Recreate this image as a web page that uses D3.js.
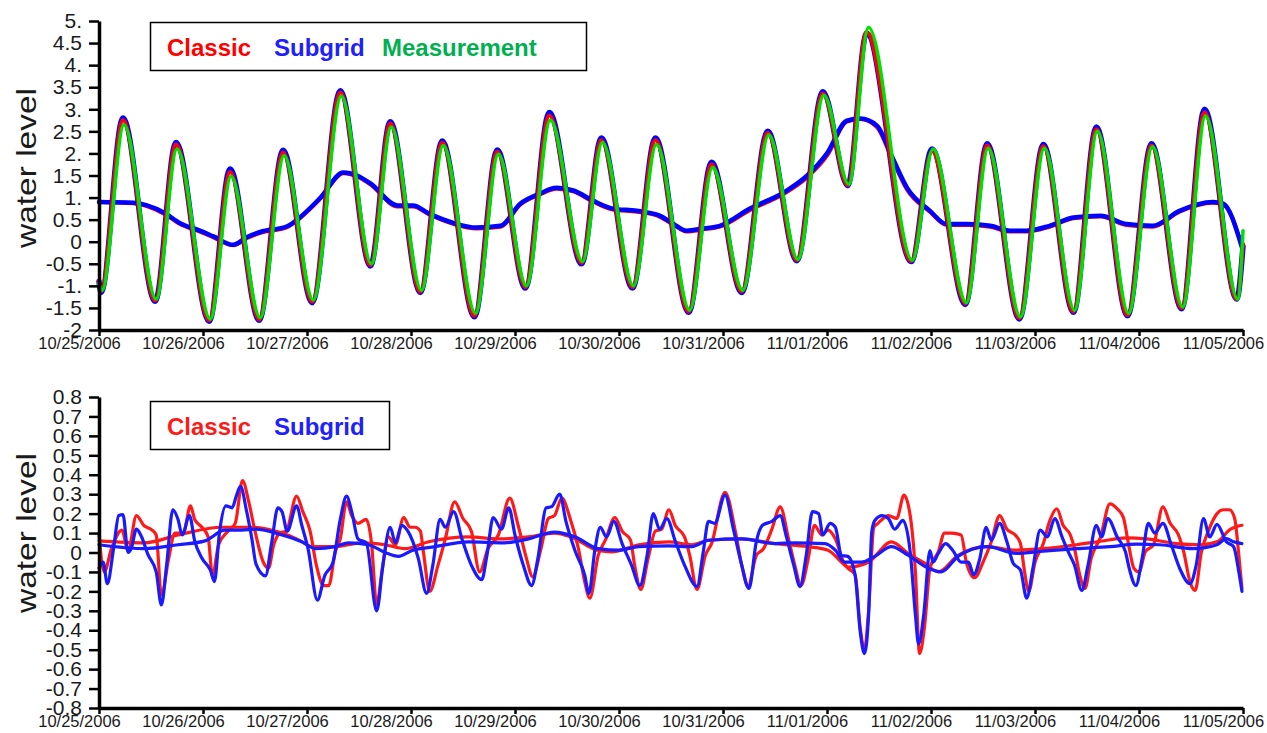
<!DOCTYPE html>
<html>
<head>
<meta charset="utf-8">
<script src="https://d3js.org/d3.v7.min.js"></script>
<style>
  body { margin: 0; background: #fff; }
  .axis text { font-family: "Liberation Sans", Arial, sans-serif; fill: #1a1a1a; }
  .axis path, .axis line { stroke: #000; }
  .legend text { font: bold 24px "Liberation Sans", Arial, sans-serif; }
  .ylab { font-family: "Liberation Sans", Arial, sans-serif; fill: #1a1a1a; }
</style>
</head>
<body>
<script>
// x labels, one per day
var dateLabels = ["10/25/2006", "10/26/2006", "10/27/2006", "10/28/2006", "10/29/2006", "10/30/2006",
                  "10/31/2006", "11/01/2006", "11/02/2006", "11/03/2006", "11/04/2006", "11/05/2006"];

var topTicks = [5, 4.5, 4, 3.5, 3, 2.5, 2, 1.5, 1, 0.5, 0, -0.5, -1, -1.5, -2];
var topTickLabels = ["5.", "4.5", "4.", "3.5", "3.", "2.5", "2.", "1.5", "1.", "0.5", "0", "-0.5", "-1.", "-1.5", "-2"];
var bottomTicks = d3.range(8, -9, -1).map(d => d / 10);
var bottomTickLabels = ["0.8", "0.7", "0.6", "0.5", "0.4", "0.3", "0.2", "0.1", "0", "-0.1", "-0.2",
                        "-0.3", "-0.4", "-0.5", "-0.6", "-0.7", "-0.8"];

// top panel: [day, water level] (tide turning points)
var subgridTide = [[0, -0.9], [0.02, -1.15], [0.23, 2.8], [0.54, -1.35], [0.74, 2.25], [1.06, -1.8], [1.26, 1.65],
  [1.54, -1.78], [1.77, 2.07], [2.05, -1.38], [2.32, 3.42], [2.61, -0.55], [2.80, 2.72], [3.09, -1.15], [3.30, 2.28],
  [3.61, -1.7], [3.83, 2.08], [4.10, -1.05], [4.33, 2.93], [4.64, -0.5], [4.83, 2.35], [5.13, -1.05], [5.35, 2.35],
  [5.67, -1.6], [5.89, 1.8], [6.18, -1.15], [6.43, 2.5], [6.71, -0.43], [6.96, 3.4], [7.20, 1.27], [7.38, 4.72],
  [7.81, -0.45], [8.01, 2.1], [8.33, -1.42], [8.54, 2.22], [8.85, -1.75], [9.08, 2.2], [9.37, -1.6], [9.59, 2.6],
  [9.89, -1.68], [10.12, 2.22], [10.41, -1.52], [10.63, 3.0], [10.94, -1.3], [11.0, -0.1]];
var classicTide = [[0, -0.9], [0.02, -1.12], [0.23, 2.75], [0.54, -1.33], [0.74, 2.2], [1.06, -1.78], [1.26, 1.58],
  [1.54, -1.76], [1.77, 2.02], [2.05, -1.36], [2.32, 3.38], [2.61, -0.53], [2.80, 2.68], [3.09, -1.13], [3.30, 2.24],
  [3.61, -1.68], [3.83, 2.04], [4.10, -1.03], [4.33, 2.86], [4.64, -0.48], [4.83, 2.3], [5.13, -1.03], [5.35, 2.3],
  [5.67, -1.58], [5.89, 1.75], [6.18, -1.13], [6.43, 2.46], [6.71, -0.42], [6.96, 3.36], [7.20, 1.28], [7.38, 4.75],
  [7.81, -0.44], [8.01, 2.05], [8.33, -1.4], [8.54, 2.18], [8.85, -1.73], [9.08, 2.16], [9.37, -1.58], [9.59, 2.55],
  [9.89, -1.66], [10.12, 2.18], [10.41, -1.5], [10.63, 2.93], [10.94, -1.3], [11.0, -0.05]];
var measuredTide = [[0, -0.95], [0.03, -1.1], [0.24, 2.65], [0.55, -1.3], [0.75, 2.1], [1.07, -1.75], [1.27, 1.48],
  [1.55, -1.72], [1.78, 1.95], [2.06, -1.32], [2.33, 3.3], [2.62, -0.5], [2.81, 2.6], [3.10, -1.1], [3.31, 2.18],
  [3.62, -1.62], [3.84, 1.98], [4.11, -1.0], [4.34, 2.75], [4.65, -0.45], [4.84, 2.25], [5.14, -1.0], [5.36, 2.2],
  [5.68, -1.55], [5.90, 1.68], [6.19, -1.1], [6.44, 2.42], [6.72, -0.4], [6.97, 3.32], [7.21, 1.3], [7.40, 4.85],
  [7.82, -0.42], [8.02, 2.1], [8.34, -1.38], [8.55, 2.12], [8.86, -1.7], [9.09, 2.12], [9.38, -1.55], [9.60, 2.5],
  [9.90, -1.62], [10.13, 2.15], [10.42, -1.48], [10.64, 2.85], [10.95, -1.3], [11.0, 0.25]];
// low-pass (subtidal) water level, both models almost identical
var subgridMean = [[0, 0.9], [0.33, 0.88], [0.63, 0.65], [0.78, 0.42], [0.97, 0.25], [1.10, 0.12], [1.29, -0.07],
  [1.42, 0.1], [1.55, 0.22], [1.81, 0.35], [1.93, 0.55], [2.13, 1.0], [2.35, 1.57], [2.48, 1.5], [2.61, 1.32],
  [2.87, 0.82], [3.02, 0.82], [3.18, 0.63], [3.40, 0.43], [3.63, 0.32], [3.86, 0.36], [4.05, 0.86], [4.24, 1.09],
  [4.40, 1.22], [4.56, 1.16], [4.75, 0.93], [4.94, 0.75], [5.17, 0.7], [5.39, 0.59], [5.52, 0.41], [5.65, 0.25],
  [5.81, 0.3], [5.97, 0.36], [6.26, 0.75], [6.58, 1.11], [6.81, 1.5], [7.00, 2.0], [7.19, 2.74], [7.32, 2.79],
  [7.48, 2.63], [7.63, 1.9], [7.77, 1.22], [7.99, 0.7], [8.15, 0.4], [8.35, 0.4], [8.57, 0.36], [8.76, 0.25],
  [8.92, 0.25], [9.14, 0.36], [9.37, 0.55], [9.63, 0.59], [9.88, 0.4], [10.13, 0.36], [10.39, 0.7], [10.71, 0.9],
  [10.81, 0.86], [10.99, -0.13]];
var classicMean = [[0, 0.9], [0.33, 0.87], [0.63, 0.63], [0.78, 0.4], [0.97, 0.23], [1.10, 0.1], [1.29, -0.08],
  [1.42, 0.08], [1.55, 0.2], [1.81, 0.33], [1.93, 0.53], [2.13, 0.98], [2.35, 1.55], [2.48, 1.48], [2.61, 1.3],
  [2.87, 0.8], [3.02, 0.8], [3.18, 0.61], [3.40, 0.41], [3.63, 0.3], [3.86, 0.34], [4.05, 0.84], [4.24, 1.07],
  [4.40, 1.2], [4.56, 1.14], [4.75, 0.91], [4.94, 0.73], [5.17, 0.68], [5.39, 0.57], [5.52, 0.39], [5.65, 0.23],
  [5.81, 0.28], [5.97, 0.34], [6.26, 0.72], [6.58, 1.08], [6.81, 1.46], [7.00, 1.95], [7.19, 2.72], [7.32, 2.78],
  [7.48, 2.6], [7.63, 1.85], [7.77, 1.18], [7.99, 0.68], [8.15, 0.38], [8.35, 0.38], [8.57, 0.34], [8.76, 0.23],
  [8.92, 0.23], [9.14, 0.34], [9.37, 0.53], [9.63, 0.57], [9.88, 0.38], [10.13, 0.34], [10.39, 0.68], [10.71, 0.88],
  [10.81, 0.84], [10.99, -0.1]];

// bottom panel: model minus measurement
var classicError = [[0, 0.09], [0.05, -0.10], [0.12, 0.02], [0.22, 0.115], [0.28, 0.01], [0.36, 0.19], [0.43, 0.14],
  [0.51, 0.115], [0.55, 0.09], [0.60, -0.22], [0.67, -0.03], [0.73, 0.10], [0.81, 0.10], [0.88, 0.24], [0.92, 0.17],
  [0.99, 0.13], [1.05, 0.08], [1.09, -0.12], [1.15, 0.04], [1.24, 0.11], [1.31, 0.15], [1.38, 0.37], [1.44, 0.26],
  [1.50, 0.11], [1.58, -0.05], [1.63, -0.08], [1.68, 0.04], [1.74, 0.10], [1.80, 0.11], [1.90, 0.29], [1.96, 0.21],
  [2.03, 0.11], [2.09, -0.065], [2.16, -0.17], [2.21, -0.17], [2.27, 0.0], [2.32, 0.07], [2.38, 0.26], [2.43, 0.19],
  [2.49, 0.15], [2.57, 0.17], [2.62, 0.05], [2.67, -0.27], [2.72, -0.10], [2.78, 0.08], [2.85, 0.04], [2.93, 0.18],
  [2.99, 0.13], [3.04, 0.13], [3.09, 0.11], [3.12, 0.0], [3.18, -0.2], [3.26, -0.065], [3.33, 0.07], [3.42, 0.26],
  [3.50, 0.175], [3.58, 0.11], [3.66, -0.10], [3.74, 0.02], [3.84, 0.09], [3.95, 0.28], [4.03, 0.14], [4.11, -0.03],
  [4.17, -0.125], [4.25, 0.02], [4.32, 0.175], [4.38, 0.19], [4.45, 0.28], [4.53, 0.175], [4.61, 0.02], [4.67, -0.15],
  [4.72, -0.235], [4.80, -0.015], [4.87, 0.065], [4.96, 0.18], [5.03, 0.11], [5.11, 0.065], [5.15, -0.065],
  [5.21, -0.19], [5.28, -0.03], [5.35, 0.11], [5.41, 0.12], [5.48, 0.22], [5.54, 0.14], [5.63, 0.08], [5.68, -0.015],
  [5.75, -0.19], [5.83, -0.015], [5.89, 0.046], [6.02, 0.31], [6.12, 0.105], [6.18, -0.065], [6.24, -0.175],
  [6.32, -0.015], [6.39, 0.02], [6.47, 0.12], [6.55, 0.235], [6.63, 0.07], [6.69, -0.065], [6.75, -0.17],
  [6.82, -0.03], [6.88, 0.14], [6.95, 0.09], [7.01, 0.115], [7.08, 0.07], [7.16, -0.05], [7.20, -0.08],
  [7.27, -0.115], [7.32, -0.39], [7.36, -0.50], [7.40, -0.30], [7.45, 0.13], [7.49, 0.15], [7.59, 0.19],
  [7.67, 0.175], [7.74, 0.295], [7.80, 0.19], [7.85, -0.10], [7.89, -0.52], [7.94, -0.37], [7.99, -0.08],
  [8.07, 0.003], [8.13, 0.10], [8.20, 0.10], [8.29, 0.09], [8.34, -0.05], [8.42, -0.13], [8.50, -0.05], [8.58, 0.055],
  [8.66, 0.19], [8.73, 0.12], [8.81, 0.09], [8.86, 0.046], [8.90, -0.10], [8.94, -0.2], [9.00, -0.05], [9.08, 0.046],
  [9.14, 0.16], [9.21, 0.225], [9.27, 0.14], [9.34, 0.09], [9.38, 0.02], [9.43, -0.115], [9.48, -0.185],
  [9.54, -0.03], [9.63, 0.08], [9.72, 0.25], [9.79, 0.225], [9.85, 0.18], [9.90, 0.04], [9.95, -0.08], [10.00, -0.10],
  [10.06, 0.003], [10.14, 0.04], [10.23, 0.235], [10.30, 0.15], [10.38, 0.09], [10.43, 0.003], [10.49, -0.15],
  [10.54, -0.195], [10.60, 0.003], [10.67, 0.115], [10.75, 0.20], [10.81, 0.22], [10.87, 0.22], [10.92, 0.175],
  [10.96, -0.015], [10.99, -0.185]];
var subgridError = [[0, -0.08], [0.04, -0.05], [0.08, -0.16], [0.14, 0.02], [0.19, 0.19], [0.23, 0.195], [0.28, 0.0],
  [0.31, 0.02], [0.36, 0.12], [0.41, 0.08], [0.47, -0.01], [0.55, -0.10], [0.60, -0.27], [0.65, -0.065], [0.71, 0.22],
  [0.76, 0.17], [0.80, 0.09], [0.87, 0.19], [0.92, 0.06], [0.99, -0.03], [1.07, -0.09], [1.11, -0.15], [1.16, 0.11],
  [1.22, 0.24], [1.28, 0.23], [1.32, 0.29], [1.36, 0.34], [1.42, 0.21], [1.47, 0.07], [1.51, -0.06], [1.60, -0.12],
  [1.66, 0.05], [1.72, 0.23], [1.76, 0.21], [1.81, 0.11], [1.90, 0.24], [1.95, 0.14], [2.01, 0.02], [2.10, -0.245],
  [2.17, -0.12], [2.25, -0.05], [2.32, 0.17], [2.38, 0.29], [2.43, 0.21], [2.49, 0.07], [2.57, 0.05], [2.67, -0.30],
  [2.73, -0.065], [2.80, 0.13], [2.85, 0.05], [2.91, 0.14], [2.97, 0.11], [3.07, -0.03], [3.15, -0.21], [3.21, -0.065],
  [3.28, 0.17], [3.33, 0.13], [3.41, 0.21], [3.49, 0.07], [3.58, -0.065], [3.68, -0.14], [3.73, -0.015], [3.79, 0.18],
  [3.87, 0.12], [3.94, 0.23], [4.00, 0.09], [4.08, -0.065], [4.16, -0.17], [4.22, -0.03], [4.30, 0.23], [4.35, 0.235],
  [4.43, 0.30], [4.49, 0.16], [4.58, 0.005], [4.67, -0.115], [4.71, -0.21], [4.77, 0.02], [4.82, 0.13], [4.88, 0.08],
  [4.95, 0.16], [5.03, 0.046], [5.12, -0.065], [5.20, -0.17], [5.27, -0.015], [5.33, 0.20], [5.39, 0.12],
  [5.46, 0.175], [5.54, 0.06], [5.63, -0.065], [5.75, -0.175], [5.81, 0.003], [5.86, 0.16], [5.92, 0.15],
  [6.02, 0.295], [6.10, 0.12], [6.18, -0.065], [6.25, -0.185], [6.32, 0.055], [6.38, 0.14], [6.47, 0.16],
  [6.55, 0.19], [6.61, 0.08], [6.68, -0.065], [6.74, -0.175], [6.80, -0.015], [6.86, 0.21], [6.92, 0.20],
  [6.96, 0.09], [7.03, 0.15], [7.08, 0.13], [7.14, -0.015], [7.20, -0.02], [7.27, -0.115], [7.32, -0.41],
  [7.36, -0.52], [7.40, -0.32], [7.43, 0.105], [7.46, 0.165], [7.53, 0.19], [7.59, 0.175], [7.65, 0.12],
  [7.73, 0.165], [7.80, 0.003], [7.85, -0.32], [7.88, -0.47], [7.93, -0.32], [7.99, 0.01], [8.02, -0.05],
  [8.07, -0.005], [8.14, 0.046], [8.21, 0.01], [8.29, -0.05], [8.36, -0.05], [8.41, -0.115], [8.47, -0.03],
  [8.53, 0.13], [8.58, 0.063], [8.66, 0.15], [8.73, 0.055], [8.79, -0.055], [8.86, -0.09], [8.92, -0.235],
  [8.98, -0.08], [9.05, 0.115], [9.12, 0.08], [9.19, 0.175], [9.26, 0.08], [9.32, 0.003], [9.38, -0.065],
  [9.45, -0.195], [9.51, -0.065], [9.59, 0.14], [9.64, 0.08], [9.70, 0.175], [9.79, 0.08], [9.87, 0.003],
  [9.91, -0.09], [9.97, -0.17], [10.03, -0.03], [10.09, 0.15], [10.15, 0.10], [10.23, 0.15], [10.31, 0.04],
  [10.39, -0.08], [10.49, -0.16], [10.55, -0.065], [10.62, 0.175], [10.68, 0.08], [10.75, 0.145], [10.84, 0.055],
  [10.91, 0.03], [10.96, -0.10], [10.99, -0.20]];
var classicErrorMean = [[0, 0.06], [0.44, 0.05], [0.76, 0.09], [1.18, 0.13], [1.47, 0.13], [1.76, 0.10], [1.92, 0.065],
  [2.05, 0.03], [2.27, 0.03], [2.53, 0.05], [2.75, 0.04], [2.94, 0.02], [3.17, 0.055], [3.55, 0.08], [3.84, 0.07],
  [4.13, 0.08], [4.38, 0.10], [4.54, 0.08], [4.80, 0.01], [4.93, 0.003], [5.19, 0.04], [5.48, 0.055], [5.70, 0.04],
  [5.86, 0.063], [6.18, 0.07], [6.50, 0.046], [6.82, 0.03], [7.01, 0.012], [7.14, -0.05], [7.20, -0.075],
  [7.40, -0.05], [7.62, 0.055], [7.78, -0.005], [7.94, -0.055], [8.07, -0.10], [8.26, -0.015], [8.54, 0.03],
  [8.79, 0.012], [9.08, 0.02], [9.40, 0.04], [9.63, 0.058], [9.88, 0.075], [10.07, 0.07], [10.36, 0.046],
  [10.59, 0.04], [10.75, 0.055], [10.88, 0.12], [10.99, 0.14]];
var subgridErrorMean = [[0, 0.04], [0.44, 0.02], [0.76, 0.04], [1.02, 0.06], [1.21, 0.115], [1.37, 0.115],
  [1.50, 0.12], [1.76, 0.09], [1.95, 0.055], [2.08, 0.02], [2.27, 0.03], [2.40, 0.05], [2.59, 0.04], [2.75, 0.0],
  [2.88, -0.02], [3.01, 0.01], [3.23, 0.03], [3.55, 0.055], [3.90, 0.05], [4.13, 0.07], [4.38, 0.105], [4.58, 0.08],
  [4.80, 0.02], [5.00, 0.012], [5.19, 0.03], [5.48, 0.034], [5.70, 0.03], [5.86, 0.063], [6.18, 0.07], [6.50, 0.046],
  [6.69, 0.05], [6.98, 0.046], [7.08, 0.012], [7.17, -0.05], [7.33, -0.05], [7.46, -0.02], [7.62, 0.03],
  [7.78, -0.014], [7.97, -0.08], [8.10, -0.10], [8.26, -0.02], [8.54, 0.03], [8.82, -0.005], [9.08, 0.007],
  [9.40, 0.02], [9.72, 0.03], [9.98, 0.043], [10.20, 0.04], [10.52, 0.02], [10.75, 0.04], [10.84, 0.072],
  [10.91, 0.055], [10.99, 0.046]];

var W = 1267, H = 733;
var svg = d3.select("body").append("svg").attr("width", W).attr("height", H);

var x = d3.scaleLinear().domain([0, 11]).range([99, 1243]);

function panel(opts) {
  var y = d3.scaleLinear().domain(opts.domain).range(opts.range);
  var g = svg.append("g");
  var line = d3.line().x(d => x(d[0])).y(d => y(d[1])).curve(d3.curveMonotoneX);

  opts.series.forEach(function(s) {
    g.append("path")
      .attr("d", line(s.data))
      .attr("fill", "none")
      .attr("stroke", s.color)
      .attr("stroke-width", s.width)
      .attr("stroke-linejoin", "round")
      .attr("stroke-linecap", "round");
  });

  var ya = g.append("g").attr("class", "axis")
    .attr("transform", "translate(" + x.range()[0] + ",0)")
    .call(d3.axisLeft(y).tickValues(opts.ticks).tickFormat((d, i) => opts.tickLabels[i])
      .tickSize(10).tickSizeOuter(0).tickPadding(7));
  ya.selectAll("text").style("font-size", "21px");
  ya.selectAll("line").attr("stroke-width", 2.5);
  ya.select(".domain").attr("stroke-width", 3.5);

  // the date labels sit a little left of their ticks in the original
  var xa = g.append("g").attr("class", "axis")
    .attr("transform", "translate(0," + opts.range[0] + ")")
    .call(d3.axisBottom(x).tickValues(d3.range(12)).tickFormat((d, i) => dateLabels[i])
      .tickSize(6).tickSizeOuter(0).tickPadding(1));
  xa.selectAll("text").style("font-size", "16.5px").attr("dx", -20);
  xa.selectAll("line").attr("stroke-width", 2.5);
  xa.select(".domain").attr("stroke-width", 3.5);

  g.append("text").attr("class", "ylab")
    .attr("transform", "translate(" + 36 + "," + opts.labelY + ") rotate(-90)")
    .attr("text-anchor", "middle")
    .attr("font-size", 28)
    .attr("textLength", 160)
    .attr("lengthAdjust", "spacingAndGlyphs")
    .text("water level");

  var lg = g.append("g").attr("class", "legend");
  lg.append("rect")
    .attr("x", 150.5).attr("y", opts.box[1])
    .attr("width", opts.box[0]).attr("height", 48)
    .attr("fill", "#fff").attr("stroke", "#000").attr("stroke-width", 1.5);
  opts.legend.forEach(function(l) {
    lg.append("text").attr("x", l.x).attr("y", opts.box[1] + 33)
      .attr("fill", l.color).text(l.name);
  });
}

panel({
  domain: [-2, 5], range: [330, 21],
  ticks: topTicks, tickLabels: topTickLabels,
  labelY: 168, box: [436, 22.5],
  series: [
    { data: classicMean, color: "#ff0000", width: 4 },
    { data: subgridMean, color: "#0000ff", width: 4.5 },
    { data: subgridTide, color: "#0000ff", width: 5.5 },
    { data: classicTide, color: "#ff0000", width: 4 },
    { data: measuredTide, color: "#00e000", width: 3.5 }
  ],
  legend: [
    { name: "Classic", color: "#ff0000", x: 167 },
    { name: "Subgrid", color: "#2020ff", x: 274 },
    { name: "Measurement", color: "#00b050", x: 382 }
  ]
});

panel({
  domain: [-0.8, 0.8], range: [708, 397],
  ticks: bottomTicks, tickLabels: bottomTickLabels,
  labelY: 533, box: [239, 401.5],
  series: [
    { data: classicErrorMean, color: "#ff1a1a", width: 3.2 },
    { data: classicError, color: "#ff1a1a", width: 3.2 },
    { data: subgridErrorMean, color: "#1a1aff", width: 3.2 },
    { data: subgridError, color: "#1a1aff", width: 3.2 }
  ],
  legend: [
    { name: "Classic", color: "#ff1a1a", x: 167 },
    { name: "Subgrid", color: "#2020ff", x: 274 }
  ]
});
</script>
</body>
</html>
